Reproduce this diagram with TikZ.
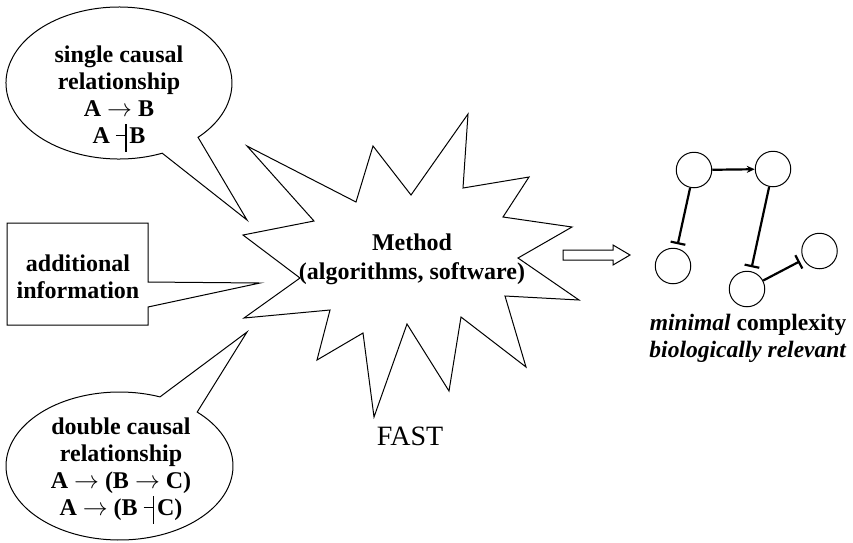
\documentclass[tikz,border=0pt]{standalone}
\usepackage{fontspec}
\setmainfont{Liberation Serif}
\usetikzlibrary{arrows.meta}
% simbolo di inibizione con barra alta
\newcommand{\inib}{\rule[0.31em]{0.38em}{0.05em}\rule[-0.33em]{0.06em}{1.16em}\hspace{0.12em}}

\begin{document}
\begin{tikzpicture}[x=1pt,y=-1pt,line width=1pt,
		testo/.style={font=\bfseries\fontsize{24}{27}\selectfont,align=center},
		gene/.style={circle,draw,minimum size=35.5pt,inner sep=0pt},
		attiva/.style={line width=2.2pt,-{Stealth[length=8pt,width=7pt]}},
		inibisce/.style={line width=2.2pt,-{Bar[width=15pt]},shorten >=4pt}]
		\useasboundingbox (0,0) rectangle (853,542);

		% Fumetto in alto
		\draw (119,83) ++(67.5:113 and 76) arc[start angle=67.5,end angle=405.6,x radius=113,y radius=76] -- (247,220) -- cycle;
		\node[testo] (singolo) at (119,99) {single causal\\relationship\\A $\rightarrow$ B\\A \inib B};

		% Riquadro a sinistra
		\draw (7,223) -- (148,223) -- (148,282) -- (260,283) -- (148,307) -- (148,325) -- (7,325) -- cycle;
		\node[testo] (info) at (78,277) {additional\\information};

		% Fumetto in basso
		\draw (119.5,466) ++(313.2:113.5 and 74) arc[start angle=313.2,end angle=650.9,x radius=113.5,y radius=74] -- (247,332) -- cycle;
		\node[testo] (doppio) at (121,471) {double causal\\relationship\\A $\rightarrow$ (B $\rightarrow$ C)\\A $\rightarrow$ (B \inib C)};

		% Stella
		\draw (247,146) -- (356,202) -- (373,146) -- (411,195) -- (468,114) -- (463,188) -- (529,177) -- (503,217)
			-- (572,227) -- (518,258) -- (579,300) -- (505,296) -- (526,367) -- (461,317) -- (449,391) -- (407,324)
			-- (374,417) -- (363,333) -- (317,360) -- (330,310) -- (244,318) -- (300,278) -- (243,235) -- (314,221) -- cycle;
		\node[testo,font=\bfseries\fontsize{24}{29}\selectfont] (metodo) at (412,259) {Method\\(algorithms, software)};
		\node[font=\fontsize{28}{30}\selectfont] (fast) at (410,436) {FAST};

		% Freccia
		\draw (563,250) -- (613,250) -- (613,245) -- (630,255) -- (613,265) -- (613,260) -- (563,260) -- cycle;

		% Rete
		\foreach \n/\x/\y in {g1/694/170, g2/773/169, g3/673/266, g4/747/289, g5/819.5/251}
		\node[gene] (\n) at (\x,\y) {};
		\draw[attiva] (g1) -- (g2);
		\draw[inibisce] (g1) -- (g3);
		\draw[inibisce] (g2) -- (g4);
		\draw[inibisce] (g4) -- (g5);
		\node[testo,font=\bfseries\fontsize{23.5}{27}\selectfont] (nota) at (748,338) {\textit{minimal} complexity\\\textit{biologically relevant}};
	\end{tikzpicture}
\end{document}
